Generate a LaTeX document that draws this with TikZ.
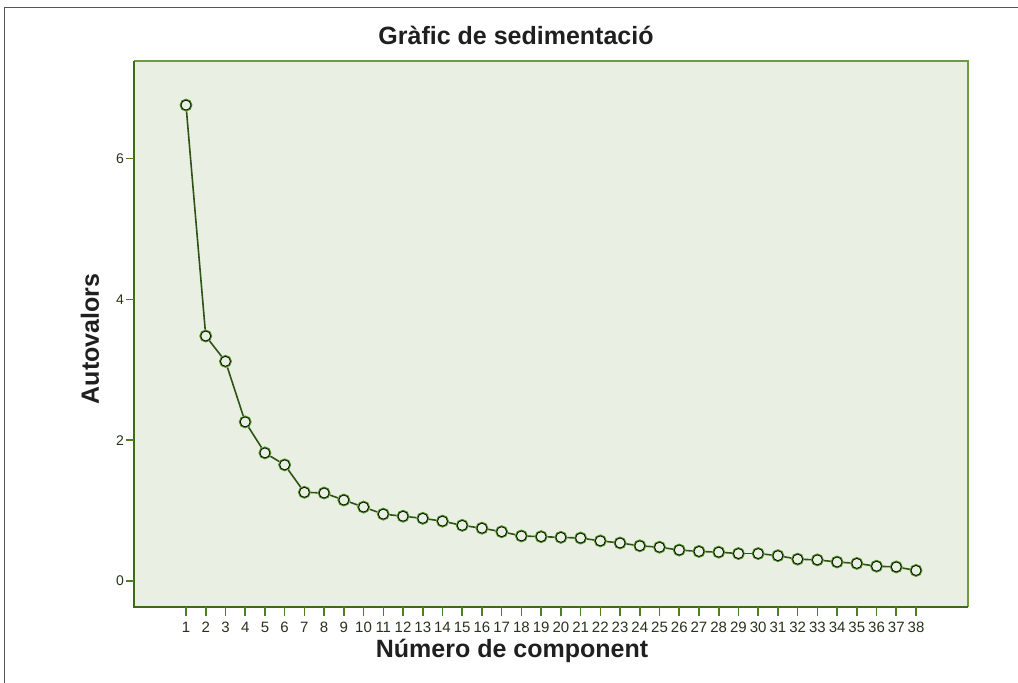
\documentclass[tikz,border=0pt]{standalone}
\usepackage{fontspec}
\setmainfont{Liberation Sans}
\definecolor{plotbg}{HTML}{E9F0E3}
\definecolor{axisdark}{HTML}{3F6A1A}
\definecolor{axislight}{HTML}{6E9E3C}
\definecolor{tickgreen}{HTML}{4E8022}
\definecolor{ticktext}{HTML}{28321A}
\definecolor{markgreen}{HTML}{4E8A22}
\definecolor{framegray}{HTML}{555555}
\begin{document}
\begin{tikzpicture}[x=1pt,y=-1pt,
  ttl/.style={font=\fontsize{25}{28}\selectfont\bfseries, text=black!88},
  xtl/.style={font=\fontsize{15}{16}\selectfont, text=ticktext, inner sep=0pt},
  ytl/.style={font=\fontsize{14}{15}\selectfont, text=ticktext, inner sep=0pt, anchor=east},
  dotmark/.style={circle, draw=markgreen, line width=1.8pt, minimum size=11pt, inner sep=0pt},
  tk/.style={draw=tickgreen, line width=1.6pt}]
\useasboundingbox (0,0) rectangle (1018,683);
% outer frame
\draw[framegray, line width=1.6pt] (4.5,700) -- (4.5,7.5) -- (1030,7.5);
% plot area
\fill[plotbg] (134,61) rectangle (968,607);
\draw[axislight, line width=1.8pt] (134,61) -- (968,61) -- (968,607);
\draw[axisdark, line width=1.6pt] (134,61) -- (134,607) -- (968,607);
% title and axis titles
\node[ttl] (title) at (516,35) {Gràfic de sedimentació};
\node[ttl, rotate=90] (ylab) at (90,339) {Autovalors};
\node[ttl] (xlab) at (512,651) {Número de component};
% y ticks
\foreach \v in {0,2,4,6}{
  \draw[tk] (126,{581-70.4*\v}) -- (134,{581-70.4*\v});
  \node[ytl] (yl\v) at (124,{581-70.4*\v}) {\v};
}
% x ticks
\foreach \i in {1,...,38}{
  \draw[tk] ({186+(\i-1)*19.73},607) -- ({186+(\i-1)*19.73},616);
  \node[xtl] (xl\i) at ({186+(\i-1)*19.73},627) {\i};
}
% data points
\foreach \v [count=\i] in {6.76,3.48,3.12,2.26,1.82,1.65,1.26,1.25,1.15,1.05,0.95,0.92,0.89,0.85,0.79,0.75,0.70,0.64,0.63,0.62,0.61,0.57,0.54,0.50,0.48,0.44,0.42,0.41,0.39,0.39,0.36,0.31,0.30,0.27,0.25,0.21,0.20,0.15}{
  \node[dotmark] (p\i) at ({186+(\i-1)*19.73},{581-70.4*\v}) {};
}
\foreach \i [evaluate=\i as \j using int(\i+1)] in {1,...,37}{
  \draw[markgreen!60!black, line width=1.6pt] (p\i) -- (p\j);
}
\foreach \i in {1,...,38}{
  \draw[black, line width=0.6pt] (p\i.center) circle (5pt);
}
\end{tikzpicture}
\end{document}
